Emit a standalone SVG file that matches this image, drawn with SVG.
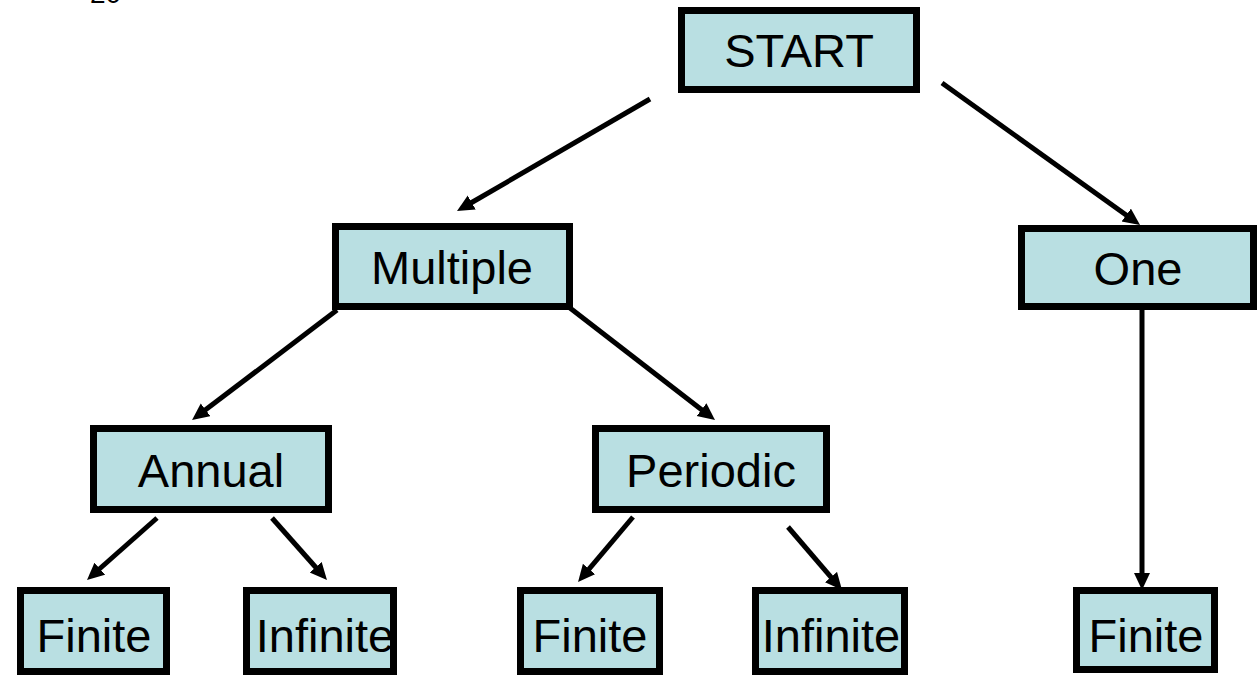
<svg xmlns="http://www.w3.org/2000/svg" width="1258" height="679" viewBox="0 0 1258 679">
  <style>
    .box { fill: #B9DFE2; stroke: #000; stroke-width: 7; }
    .lbl { font-family: "Liberation Sans", Arial, sans-serif; font-size: 47px; fill: #000; text-anchor: middle; }
    .pg { font-family: "Liberation Sans", Arial, sans-serif; font-size: 28px; fill: #000; }
    .edge { fill: none; stroke: #000; stroke-width: 5; marker-end: url(#head); }
  </style>
  <defs>
    <marker id="head" markerUnits="userSpaceOnUse" markerWidth="19" markerHeight="17" refX="5" refY="8" orient="auto">
      <path d="M0,0 L17,8 L0,16 z" fill="#000"/>
    </marker>
  </defs>
  <rect width="1258" height="679" fill="#fff"/>

  <!-- page number, clipped at the top edge -->
  <text class="pg" x="90" y="3">20</text>

  <g id="connectors">
    <path class="edge" d="M650,99 L467.4,205"/>
    <path class="edge" d="M942,83 L1130.3,218"/>
    <path class="edge" d="M337,310 L201.6,412.8"/>
    <path class="edge" d="M570,308 L705.5,412.7"/>
    <path class="edge" d="M157,518 L96,572"/>
    <path class="edge" d="M272,518 L319,571"/>
    <path class="edge" d="M633,517 L585.8,572.8"/>
    <path class="edge" d="M788,527 L834.2,580.9"/>
    <path class="edge" d="M1142,310 L1142,578"/>
  </g>

  <g id="start">
    <rect class="box" x="681.5" y="10.5" width="235" height="79"/>
    <text class="lbl" x="799" y="67">START</text>
  </g>
  <g id="multiple">
    <rect class="box" x="335.5" y="226.5" width="234" height="80"/>
    <text class="lbl" x="452" y="284">Multiple</text>
  </g>
  <g id="one">
    <rect class="box" x="1021.5" y="228.5" width="232" height="78"/>
    <text class="lbl" x="1138" y="285">One</text>
  </g>
  <g id="annual">
    <rect class="box" x="93.5" y="428.5" width="235" height="81"/>
    <text class="lbl" x="211" y="487">Annual</text>
  </g>
  <g id="periodic">
    <rect class="box" x="595.5" y="428.5" width="231" height="81"/>
    <text class="lbl" x="711" y="487">Periodic</text>
  </g>
  <g id="annual-finite">
    <rect class="box" x="20.5" y="590.5" width="146" height="81"/>
    <text class="lbl" x="94" y="652">Finite</text>
  </g>
  <g id="annual-infinite">
    <rect class="box" x="246.5" y="590.5" width="147" height="81"/>
    <text class="lbl" x="325" y="652">Infinite</text>
  </g>
  <g id="periodic-finite">
    <rect class="box" x="520.5" y="590.5" width="139" height="81"/>
    <text class="lbl" x="590" y="652">Finite</text>
  </g>
  <g id="periodic-infinite">
    <rect class="box" x="755.5" y="590.5" width="149" height="81"/>
    <text class="lbl" x="831" y="652">Infinite</text>
  </g>
  <g id="one-finite">
    <rect class="box" x="1076.5" y="590.5" width="138" height="79"/>
    <text class="lbl" x="1146" y="652">Finite</text>
  </g>
</svg>
